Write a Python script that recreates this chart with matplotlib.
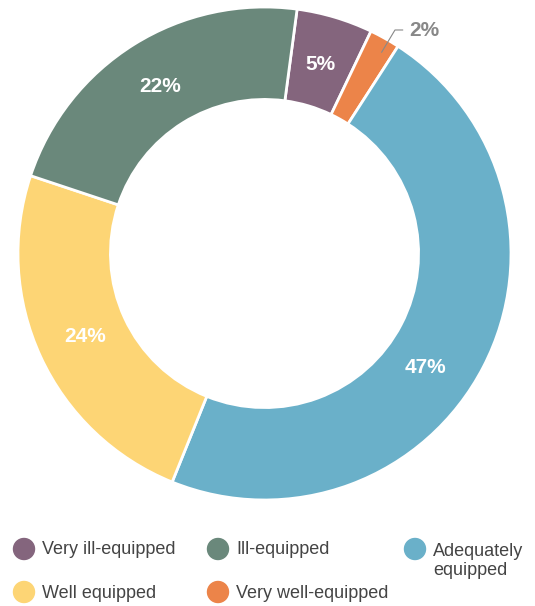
import numpy as np
import matplotlib.pyplot as plt
from matplotlib.patches import Circle

# Data (clockwise from the top)
categories = ['Very ill-equipped', 'Very well-equipped', 'Adequately\nequipped', 'Well equipped', 'Ill-equipped']
shares = [5, 2, 47, 24, 22]
colors = ['#84657D', '#EC8449', '#6AB0C9', '#FDD575', '#6A887B']

# Legend order as in the reference (rows of three)
legend_labels = ['Very ill-equipped', 'Ill-equipped', 'Adequately\nequipped', 'Well equipped', 'Very well-equipped']
legend_colors = ['#84657D', '#6A887B', '#6AB0C9', '#FDD575', '#EC8449']

plt.rcParams['font.family'] = ['Liberation Sans', 'DejaVu Sans']

W, H = 535, 606
fig = plt.figure(figsize=(W / 100, H / 100), dpi=100)

# donut axes (pixel geometry)
cx, cy, r = 264.5, 253.5, 246.5
ax = fig.add_axes([(cx - r) / W, (H - cy - r) / H, 2 * r / W, 2 * r / H])
wedges, _ = ax.pie(shares, colors=colors, startangle=82.4, counterclock=False,
                   radius=1, wedgeprops=dict(width=0.375, edgecolor='white', linewidth=2))
ax.set_xlim(-1, 1)
ax.set_ylim(-1, 1)
ax.set_aspect('equal')
ax.axis('off')

# small angle nudges so labels sit where the reference puts them
nudge = {1: -1.0, 2: -8.0}
for i, (w, s) in enumerate(zip(wedges, shares)):
    mid = np.deg2rad((w.theta1 + w.theta2) / 2 + nudge.get(i, 0))
    if s < 3:
        # small slice: label outside with leader line
        x0, y0 = 0.945 * np.cos(mid), 0.945 * np.sin(mid)
        ax.plot([x0, x0 + 0.054, x0 + 0.085], [y0, y0 + 0.09, y0 + 0.09], color='#888888', lw=0.8)
        ax.text(x0 + 0.113, y0 + 0.086, f'{s}%', color='#888888', fontsize=15,
                fontweight='bold', ha='left', va='center')
    else:
        ax.text(0.8 * np.cos(mid), 0.8 * np.sin(mid), f'{s}%', color='white',
                fontsize=15, fontweight='bold', ha='center', va='center')

# legend drawn manually in pixel coordinates
lax = fig.add_axes([0, 0, 1, 1])
lax.set_xlim(0, W)
lax.set_ylim(H, 0)
lax.axis('off')
pos = [(24, 549), (218, 549), (415, 549), (24, 592), (218, 592)]
for (x, y), lab, c in zip(pos, legend_labels, legend_colors):
    lax.add_patch(Circle((x, y), 10.5, color=c))
    ty = y + 1 if '\n' not in lab else y + 12
    lax.text(x + 18, ty, lab, fontsize=13, color='#444444',
             ha='left', va='center', linespacing=1.2)

fig.savefig('out.png', dpi=100)
